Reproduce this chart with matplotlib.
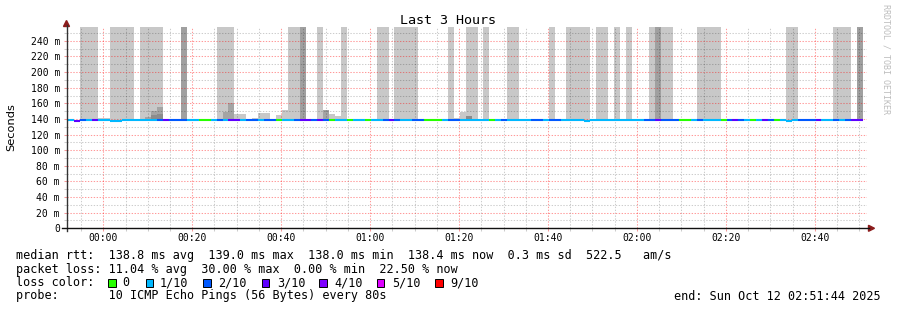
import numpy as np
import matplotlib
matplotlib.use("Agg")
import matplotlib.pyplot as plt
from matplotlib.patches import Rectangle, Polygon
from matplotlib.lines import Line2D

# Datos (tiempo en minutos desde las 00:00)
paso = 80 / 60.0          # una muestra cada 80 s
inicio = -7.85            # inicio de la primera muestra
t_ini, t_fin = -8.27, 171.73   # 23:51:44 -> 02:51:44

# pings perdidos (de 10) en cada muestra
perdidas = [1, 3, 2, 1, 3, 1, 1, 1, 1, 1,
            1, 1, 1, 1, 1, 2, 3, 2, 2, 2,
            1, 1, 0, 0, 1, 2, 1, 3, 3, 1,
            2, 2, 1, 2, 2, 0, 1, 1, 2, 3,
            3, 2, 3, 2, 0, 1, 1, 0, 1, 1,
            0, 1, 1, 2, 3, 2, 1, 1, 2, 2,
            0, 0, 0, 1, 2, 2, 1, 1, 1, 1,
            1, 0, 1, 2, 1, 1, 1, 1, 2, 2,
            1, 2, 2, 1, 1, 1, 1, 1, 1, 1,
            1, 1, 1, 1, 1, 1, 1, 2, 2, 3,
            2, 2, 2, 0, 0, 1, 2, 1, 1, 1,
            0, 2, 3, 2, 1, 0, 1, 3, 2, 0,
            1, 1, 1, 2, 2, 2, 3, 1, 1, 2,
            1, 2, 3, 3]

# mediana rtt (ms): casi plana, algunas muestras un poco mas bajas
mediana_normal = 138.7
muestras_bajas = [1, 7, 8, 87, 121]
mediana_baja = 137.4

# humo que sale por arriba del grafico
LLENO = 300
humo_lleno_claro = [2, 3, 4, 7, 8, 9, 10, 12, 13, 14, 15, 25, 26, 27, 37, 38, 42, 46,
                    52, 53, 55, 56, 57, 58, 64, 67, 68, 70, 74, 75, 81, 84, 85, 86, 87,
                    89, 90, 92, 94, 98, 100, 101, 106, 107, 108, 109, 121, 122,
                    129, 130, 131]
humo_lleno_oscuro = [19, 39, 99, 133]

# humo bajo (muestra, tope en ms)
claro_muestras = [5, 6, 28, 29, 31, 32, 33, 35, 36, 44, 45, 60, 61, 65, 66]
claro_topes = [141.6, 141.6, 146.3, 146.3, 141.6, 147.6, 147.6, 145.0, 151.5,
               146.3, 143.8, 140.5, 140.5, 141.0, 148.8]
medio_muestras = [13, 14, 15, 26, 27, 43]
medio_topes = [142.9, 150.0, 155.3, 149.3, 160.8, 151.5]
oscuro_muestras = [14, 15, 67]
oscuro_topes = [144.5, 146.3, 143.5]

colores_perdida = {0: "#26ff00", 1: "#00b8ff", 2: "#0059ff", 3: "#5e00ff",
                   4: "#7e00ff", 5: "#dd00ff", 9: "#ff0000"}
leyenda_perdida = [0, 1, 2, 3, 4, 5, 9]

etiquetas_x = ["00:00", "00:20", "00:40", "01:00", "01:20", "01:40", "02:00", "02:20", "02:40"]
etiquetas_y = ["0"] + ["%d m" % v for v in range(20, 241, 20)]

W, H = 897, 310
mono = "DejaVu Sans Mono"


def fx(x):
    return x / W


def fy(y):
    return 1 - y / H


fig = plt.figure(figsize=(W / 100, H / 100), dpi=100)
fig.patch.set_facecolor("white")
ax = fig.add_axes([fx(66.5), fy(228.3), fx(867 - 66.5), (228.3 - 27) / H])
ax.set_xlim(t_ini, t_fin)
ax.set_ylim(0, 257.7)

n = len(perdidas)
k = np.arange(n)
med = np.full(n, mediana_normal)
med[muestras_bajas] = mediana_baja


def humo(muestras, topes, color):
    m = np.array(muestras)
    ax.bar(inicio + m * paso, np.array(topes) - med[m], bottom=med[m], width=paso,
           align="edge", color=color, linewidth=0, zorder=1)


humo(humo_lleno_claro, [LLENO] * len(humo_lleno_claro), "#c8c8c8")
humo(claro_muestras, claro_topes, "#c8c8c8")
humo(humo_lleno_oscuro, [LLENO] * len(humo_lleno_oscuro), "#a0a0a0")
humo(medio_muestras, medio_topes, "#a4a4a4")
humo(oscuro_muestras, oscuro_topes, "#8c8c8c")

# linea de la mediana coloreada por perdida
ax.hlines(med, inicio + k * paso, inicio + (k + 1) * paso,
          colors=[colores_perdida[p] for p in perdidas], linewidth=1.5, zorder=4)

# rejilla (colores con transparencia, como rrdtool)
ax.set_xticks(range(0, 161, 20))
ax.set_xticklabels(etiquetas_x)
ax.set_xticks([m for m in range(-5, 171, 5) if m % 20], minor=True)
ax.set_yticks(range(0, 241, 20))
ax.set_yticklabels(etiquetas_y)
ax.set_yticks(range(10, 251, 20), minor=True)
ax.set_axisbelow(False)
ax.grid(which="major", color="red", alpha=0.4, linestyle=(0, (1.3, 1.5)), linewidth=0.75)
ax.grid(which="minor", color="black", alpha=0.2, linestyle=(0, (1.3, 1.5)), linewidth=0.75)
ax.tick_params(which="major", length=2.2, width=0.75, color="#f59999", direction="out")
ax.tick_params(which="minor", length=2.2, width=0.75, color="#cccccc", direction="out")
ax.tick_params(axis="y", pad=2.5, labelsize=7)
ax.tick_params(axis="x", pad=1.5, labelsize=7)
for lab in ax.get_xticklabels() + ax.get_yticklabels():
    lab.set_family(mono)
for s in ax.spines.values():
    s.set_visible(False)

# ejes con flechas
fig.add_artist(Line2D([fx(66.5), fx(66.5)], [fy(231), fy(25)], color="#333333", lw=1.0))
fig.add_artist(Line2D([fx(62), fx(869)], [fy(228.3), fy(228.3)], color="#111111", lw=1.0))
fig.add_artist(Polygon([[fx(63.5), fy(26.5)], [fx(69.5), fy(26.5)], [fx(66.5), fy(20.5)]],
                       closed=True, color="#8c1c1c", transform=fig.transFigure))
fig.add_artist(Polygon([[fx(868.5), fy(225.3)], [fx(868.5), fy(231.3)], [fx(874.5), fy(228.3)]],
                       closed=True, color="#8c1c1c", transform=fig.transFigure))

# textos
fig.text(fx(448), fy(24), "Last 3 Hours", ha="center", va="baseline", family=mono, size=9.6)
fig.text(fx(11), fy(127), "Seconds", rotation=90, ha="center", va="center",
         family="DejaVu Sans", size=8.2)
fig.text(fx(886), fy(4), "RRDTOOL / TOBI OETIKER", rotation=-90, ha="center", va="top",
         family=mono, size=6, color="#bdbdbd")

tam = 8.5
fig.text(fx(16), fy(259),
         "median rtt:  138.8 ms avg  139.0 ms max  138.0 ms min  138.4 ms now  0.3 ms sd  522.5   am/s",
         family=mono, size=tam, va="baseline")
fig.text(fx(16), fy(272.5), "packet loss: 11.04 % avg  30.00 % max  0.00 % min  22.50 % now",
         family=mono, size=tam, va="baseline")
fig.text(fx(16), fy(286), "loss color:", family=mono, size=tam, va="baseline")
cuadros_x = [108, 145.7, 203.3, 261.7, 319.3, 376.7, 435]
textos_x = [122.7, 160, 218.3, 276.7, 334, 391.7, 450]
for p, cx, tx in zip(leyenda_perdida, cuadros_x, textos_x):
    fig.add_artist(Rectangle((fx(cx), fy(286.5)), 7.5 / W, 7.5 / H, facecolor=colores_perdida[p],
                             edgecolor="black", linewidth=0.7, transform=fig.transFigure))
    fig.text(fx(tx), fy(286), "0" if p == 0 else "%d/10" % p, family=mono, size=tam, va="baseline")
fig.text(fx(16), fy(299.5), "probe:       10 ICMP Echo Pings (56 Bytes) every 80s",
         family=mono, size=tam, va="baseline")
fig.text(fx(880.5), fy(299.5), "end: Sun Oct 12 02:51:44 2025", family=mono, size=tam,
         va="baseline", ha="right")

fig.savefig("out.png", dpi=100)
